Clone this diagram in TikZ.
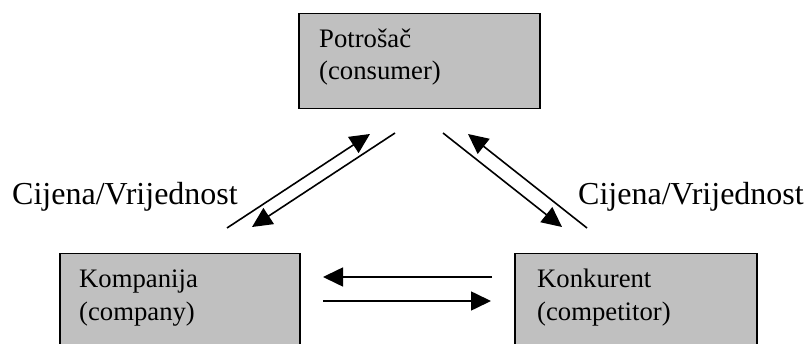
\documentclass[tikz,border=0pt]{standalone}
\usepackage{fontspec}
\setmainfont{Liberation Serif}
\usetikzlibrary{arrows.meta}
\definecolor{boxgray}{HTML}{C0C0C0}
\begin{document}
\begin{tikzpicture}[x=1pt,y=-1pt,
  party/.style={draw=black, line width=1.5pt, fill=boxgray, rectangle,
    anchor=north west, inner sep=0pt},
  boxtext/.style={anchor=base west, inner sep=0pt,
    font=\fontsize{26.7}{32}\selectfont},
  flowlabel/.style={anchor=base west, inner sep=0pt,
    font=\fontsize{32}{38}\selectfont},
  flow/.style={line width=1.6pt, -{Triangle[length=20pt,width=19pt]}}]
\useasboundingbox (0,0) rectangle (808,344);
\clip (0,0) rectangle (808,344);

% the three parties
\node[party, minimum width=241pt, minimum height=95pt] (consumer) at (298,13) {};
\node[party, minimum width=240pt, minimum height=97pt] (company) at (59,253) {};
\node[party, minimum width=242pt, minimum height=97pt] (competitor) at (514,253) {};

\node[boxtext] (consumer1) at (319,48) {Potrošač};
\node[boxtext] (consumer2) at (319,80) {(consumer)};
\node[boxtext] (company1) at (79,288) {Kompanija};
\node[boxtext] (company2) at (79,320) {(company)};
\node[boxtext] (competitor1) at (537,288) {Konkurent};
\node[boxtext] (competitor2) at (537,320) {(competitor)};

% price/value labels
\node[flowlabel] (leftlabel) at (12,205) {Cijena/Vrijednost};
\node[flowlabel] (rightlabel) at (578,205) {Cijena/Vrijednost};

% end points of the exchange arrows
\coordinate (l1s) at (227,228);  \coordinate (l1e) at (370,134);
\coordinate (l2s) at (395,133);  \coordinate (l2e) at (252,227);
\coordinate (r1s) at (443,133);  \coordinate (r1e) at (562,227);
\coordinate (r2s) at (587,228);  \coordinate (r2e) at (468,134);
\coordinate (h1s) at (492,277);  \coordinate (h1e) at (323,277);
\coordinate (h2s) at (323,301);  \coordinate (h2e) at (491,301);

\draw[flow] (l1s) -- (l1e);
\draw[flow] (l2s) -- (l2e);
\draw[flow] (r1s) -- (r1e);
\draw[flow] (r2s) -- (r2e);
\draw[flow] (h1s) -- (h1e);
\draw[flow] (h2s) -- (h2e);
\end{tikzpicture}
\end{document}
